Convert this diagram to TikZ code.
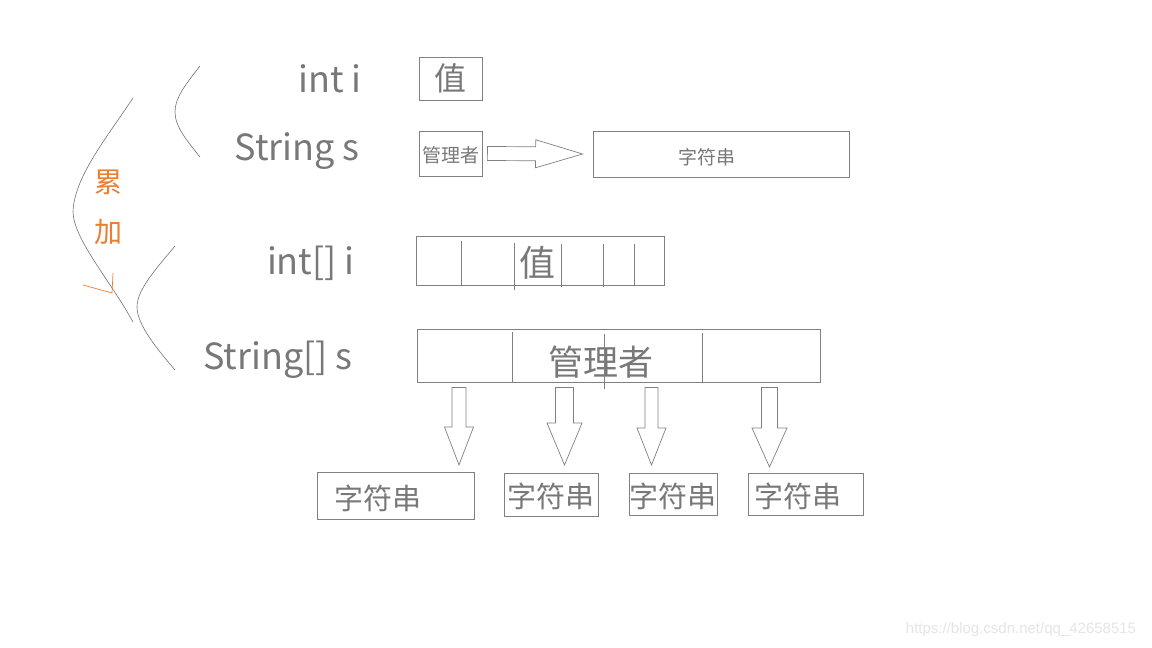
\documentclass[tikz,border=0pt]{standalone}
\usepackage{fontspec}
\setmainfont{Noto Sans CJK SC}
\newfontfamily\urlfont{Liberation Sans}
\usetikzlibrary{calc}
\definecolor{linegray}{RGB}{128,128,128}
\definecolor{textgray}{RGB}{120,120,120}
\definecolor{sumorange}{RGB}{237,125,49}
\newcommand{\lowtext}[2]{\raisebox{-#1}[\height][\depth]{#2}}
\tikzstyle{varname} = [anchor=east, inner sep=0pt, text=textgray, font=\fontsize{36}{40}\selectfont]
\tikzstyle{cell} = [rectangle, draw=linegray, line width=0.8pt, inner sep=0pt, text=textgray]
\tikzstyle{divider} = [draw=linegray, line width=0.8pt]
\tikzstyle{brace} = [draw=linegray!90!black, line width=0.6pt]
\tikzset{hollow/.style n args={3}{draw=linegray, line width=0.7pt, to path={
  let \p1=(\tikztostart), \p2=(\tikztotarget),
      \n1={veclen(\x2-\x1,\y2-\y1)}, \n2={atan2(\y2-\y1,\x2-\x1)} in
  ($(\p1)+(\n2+90:#1pt)$) -- ($(\p1)+(\n2:\n1-#3pt)+(\n2+90:#1pt)$)
  -- ($(\p1)+(\n2:\n1-#3pt)+(\n2+90:#2pt)$) -- (\p2)
  -- ($(\p1)+(\n2:\n1-#3pt)+(\n2-90:#2pt)$) -- ($(\p1)+(\n2:\n1-#3pt)+(\n2-90:#1pt)$)
  -- ($(\p1)+(\n2-90:#1pt)$) -- cycle}}}
\begin{document}
\begin{tikzpicture}[x=1pt, y=-1pt]
\useasboundingbox[fill=white] (0,0) rectangle (1152,648);
\node (vint) [varname] at (362,79) {int i};
\node (vstr) [varname] at (360,151) {String s};
\node (vintarr) [varname] at (355,263) {int[] i};
\node (vstrarr) [varname] at (353,360) {String[] s};

\node (valbox) [cell, minimum width=63, minimum height=43, font=\fontsize{32}{36}\selectfont] at (450.5,78.5) {值};
\node (mgrbox) [cell, minimum width=63, minimum height=45, font=\fontsize{19}{22}\selectfont] at (450.5,153.5) {\lowtext{2pt}{管理者}};
\node (strbox) [cell, minimum width=256, minimum height=46, font=\fontsize{19}{22}\selectfont] at (721,154) {\hspace*{-28pt}\lowtext{3pt}{字符串}};
\draw [hollow={7}{14}{47}] ([xshift=5pt]mgrbox.east) to ([xshift=-10pt]strbox.west);

\node (arrbox) [cell, minimum width=248, minimum height=49, font=\fontsize{36}{40}\selectfont] at (540,260.5) {\hspace*{-6pt}\lowtext{2pt}{值}};
\foreach \x/\a/\b in {461/241/285, 514/243/290, 561/244/287, 603/244/287, 634/244/285}
  \draw [divider] (\x,\a) -- (\x,\b);

\node (sarrbox) [cell, minimum width=403, minimum height=53, font=\fontsize{35}{40}\selectfont] at (618.5,355.5) {\hspace*{-35pt}\lowtext{7pt}{管理者}};
\foreach \x/\a/\b in {512/332/383, 604/334/389, 702/333/382}
  \draw [divider] (\x,\a) -- (\x,\b);

\node (s1) [cell, minimum width=157, minimum height=47, font=\fontsize{29}{33}\selectfont] at (395.5,495.5) {\hspace*{-35pt}\lowtext{3pt}{字符串}};
\node (s2) [cell, minimum width=94, minimum height=43, font=\fontsize{29}{33}\selectfont] at (551,494.5) {\lowtext{2pt}{字符串}};
\node (s3) [cell, minimum width=88, minimum height=42, font=\fontsize{29}{33}\selectfont] at (673,494) {\lowtext{2pt}{字符串}};
\node (s4) [cell, minimum width=115, minimum height=42, font=\fontsize{29}{33}\selectfont] at (805.5,494) {\hspace*{-15pt}\lowtext{2pt}{字符串}};

\coordinate (t1) at (459,465);
\coordinate (t2) at (564.5,465);
\coordinate (t3) at (651.5,465);
\coordinate (t4) at (769.5,467);
\draw [hollow={7}{14.5}{38}] ([yshift=-5pt]sarrbox.south -| t1) to (t1);
\draw [hollow={9}{17.5}{42}] ([yshift=-5pt]sarrbox.south -| t2) to (t2);
\draw [hollow={6.5}{14.5}{37}] ([yshift=-5pt]sarrbox.south -| t3) to (t3);
\draw [hollow={8}{17.5}{39}] ([yshift=-5pt]sarrbox.south -| t4) to (t4);

\draw [brace] (200,66) .. controls (185,85) and (175,98) .. (175,112) .. controls (175,127) and (188,142) .. (200,157);
\draw [brace] (175,246) .. controls (155,270) and (137,290) .. (137,307) .. controls (137,325) and (158,350) .. (175,370);
\draw [brace] (133,98) .. controls (105,140) and (74,178) .. (73,212) .. controls (74,240) and (110,280) .. (133,322);
\draw [sumorange, line width=0.7pt] (83,285) -- (112,293) -- (113,273);
\node (sum1) [text=sumorange, font=\fontsize{28}{32}\selectfont, inner sep=0pt] at (108,182) {累};
\node (sum2) [text=sumorange, font=\fontsize{28}{32}\selectfont, inner sep=0pt] at (108,232) {加};

\node (mark) [text=black!10, font=\urlfont\fontsize{15}{18}\selectfont, inner sep=0pt] at (1021,630) {https://blog.csdn.net/qq\_42658515};
\end{tikzpicture}
\end{document}
